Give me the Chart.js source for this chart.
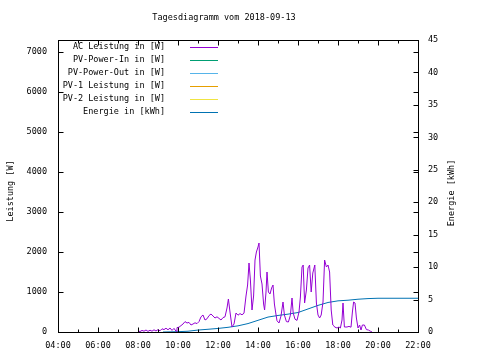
<!DOCTYPE html>
<html>
<head>
<meta charset="utf-8">
<script src="https://cdn.jsdelivr.net/npm/chart.js@4/dist/chart.umd.min.js"></script>
<style>
  html, body { margin: 0; padding: 0; background: #fff; }
  #wrap { width: 480px; height: 360px; }
</style>
</head>
<body>
<div id="wrap"><canvas id="c" width="480" height="360"></canvas></div>
<script>
// ---- data (hours of day, values) ----
const titleText = 'Tagesdiagramm vom 2018-09-13';
const seriesLabels = ['AC Leistung in [W]', 'PV-Power-In in [W]', 'PV-Power-Out in [W]', 'PV-1 Leistung in [W]', 'PV-2 Leistung in [W]', 'Energie in [kWh]'];
const seriesColors = ['#9400d3', '#009e73', '#56b4e9', '#e69f00', '#f0e442', '#0072b2'];

const acTimes = [8.00,8.10,8.20,8.30,8.40,8.50,8.60,8.70,8.80,8.90,9.00,9.10,9.20,9.30,9.40,9.50,9.60,9.70,9.80,9.90,9.95,
  10.05,10.15,10.25,10.35,10.45,10.55,10.65,10.75,10.85,10.95,11.05,11.15,11.25,11.35,11.45,11.55,11.65,11.75,11.85,11.95,
  12.05,12.15,12.25,12.35,12.45,12.52,12.60,12.70,12.80,12.90,13.00,13.10,13.20,13.30,13.40,13.48,13.55,13.62,13.70,13.78,
  13.85,13.92,14.00,14.05,14.12,14.20,14.28,14.33,14.40,14.45,14.52,14.60,14.68,14.75,14.82,14.88,14.95,15.05,15.15,15.25,
  15.32,15.42,15.52,15.62,15.70,15.76,15.85,15.95,16.05,16.12,16.20,16.26,16.33,16.42,16.50,16.58,16.66,16.74,16.84,16.92,
  17.00,17.08,17.16,17.25,17.33,17.42,17.50,17.58,17.66,17.74,17.85,17.95,18.05,18.12,18.20,18.25,18.32,18.45,18.55,18.65,
  18.72,18.78,18.85,18.92,19.00,19.08,19.15,19.22,19.32,19.42,19.52,19.62,19.70];
const acValues = [30,10,40,20,50,15,45,20,55,25,60,30,80,60,95,55,100,40,90,20,110,
  120,160,200,260,225,240,175,200,230,210,260,380,425,300,330,410,450,400,350,380,
  340,300,360,380,600,825,500,125,200,475,420,460,430,470,900,1175,1725,1300,550,900,
  1800,2000,2125,2225,1400,1200,700,550,1000,1500,1000,950,1100,1175,700,500,280,225,400,750,
  425,260,250,420,850,475,320,290,500,875,1625,1675,725,1050,1600,1675,1000,1475,1675,725,
  425,350,425,750,1800,1625,1675,1500,550,175,120,100,125,100,300,725,125,125,140,120,
  500,750,725,350,100,175,50,175,175,60,50,20,0];

const energyTimes = [9.25,10.0,10.5,11.0,11.5,12.0,12.5,13.0,13.5,14.0,14.5,15.0,15.5,16.0,16.5,17.0,17.5,18.0,18.5,19.0,19.5,20.0,22.0];
const energyValues = [0,0.05,0.12,0.3,0.42,0.55,0.72,0.95,1.3,1.8,2.3,2.55,2.75,3.0,3.55,4.1,4.55,4.8,4.9,5.05,5.15,5.2,5.2];

const xRange = [4, 22];
const yRange = [0, 7300];
const y2Range = [0, 45];
const xTicks = [4, 6, 8, 10, 12, 14, 16, 18, 20, 22];
const yTicks = [0, 1000, 2000, 3000, 4000, 5000, 6000, 7000];
const y2Ticks = [0, 5, 10, 15, 20, 25, 30, 35, 40, 45];

const FONT = "'DejaVu Sans Mono', monospace";
const FS = 8.5;

function pts(t, v) { return t.map((x, i) => ({ x: x, y: v[i] })); }

const datasets = [
  { label: seriesLabels[0], data: pts(acTimes, acValues), borderColor: seriesColors[0], yAxisID: 'y' },
  { label: seriesLabels[1], data: [], borderColor: seriesColors[1], yAxisID: 'y' },
  { label: seriesLabels[2], data: [], borderColor: seriesColors[2], yAxisID: 'y' },
  { label: seriesLabels[3], data: [], borderColor: seriesColors[3], yAxisID: 'y' },
  { label: seriesLabels[4], data: [], borderColor: seriesColors[4], yAxisID: 'y' },
  { label: seriesLabels[5], data: pts(energyTimes, energyValues), borderColor: seriesColors[5], yAxisID: 'y2' }
].map(d => Object.assign(d, { borderWidth: 1, pointRadius: 0, tension: 0, fill: false }));

function line(ctx, x1, y1, x2, y2) { ctx.beginPath(); ctx.moveTo(x1, y1); ctx.lineTo(x2, y2); ctx.stroke(); }

const gnuplotFrame = {
  id: 'gnuplotFrame',
  afterDatasetsDraw(chart) {
    const { ctx, chartArea: a, scales } = chart;
    ctx.save();
    ctx.strokeStyle = '#000';
    ctx.lineWidth = 1;
    const L = Math.round(a.left) + 0.5, R = Math.round(a.right) + 0.5;
    const T = Math.round(a.top) + 0.5, B = Math.round(a.bottom) + 0.5;
    ctx.strokeRect(L, T, R - L, B - T);
    // x ticks, hourly, mirrored on top
    for (let h = xRange[0]; h <= xRange[1]; h++) {
      const x = Math.round(scales.x.getPixelForValue(h)) + 0.5;
      const len = h % 2 === 0 ? 5 : 3;
      line(ctx, x, B, x, B - len);
      line(ctx, x, T, x, T + len);
    }
    // left y ticks, mirrored on right
    yTicks.forEach(v => {
      const y = Math.round(scales.y.getPixelForValue(v)) + 0.5;
      line(ctx, L, y, L + 5, y);
      line(ctx, R, y, R - 5, y);
    });
    // right y2 ticks
    y2Ticks.forEach(v => {
      const y = Math.round(scales.y2.getPixelForValue(v)) + 0.5;
      line(ctx, R, y, R - 5, y);
    });
    ctx.font = FS + 'px ' + FONT;
    ctx.fillStyle = '#000';
    ctx.textBaseline = 'middle';
    // title
    ctx.textAlign = 'center';
    ctx.fillText(titleText, 224, 18);
    // legend
    ctx.textAlign = 'right';
    chart.data.datasets.forEach((d, i) => {
      const y = 47 + i * 13;
      ctx.fillText(d.label, 165, y);
      ctx.strokeStyle = d.borderColor;
      line(ctx, 190, Math.round(y) + 0.5, 218, Math.round(y) + 0.5);
    });
    // axis titles, reading upward
    [['Leistung [W]', 11, 191], ['Energie [kWh]', 452, 193]].forEach(([t, x, y]) => {
      ctx.save();
      ctx.translate(x, y);
      ctx.rotate(-Math.PI / 2);
      ctx.textAlign = 'center';
      ctx.fillText(t, 0, 0);
      ctx.restore();
    });
    ctx.restore();
  }
};

const tickFont = { family: FONT, size: FS };
function setTicks(list) { return s => { s.ticks = list.map(v => ({ value: v })); }; }

new Chart(document.getElementById('c'), {
  type: 'line',
  data: { datasets: datasets },
  plugins: [gnuplotFrame],
  options: {
    responsive: false,
    animation: false,
    layout: { padding: { top: 40, left: 0, right: 0, bottom: 0 } },
    plugins: {
      legend: { display: false },
      tooltip: { enabled: false },
      title: { display: false }
    },
    scales: {
      x: {
        type: 'linear', min: xRange[0], max: xRange[1],
        grid: { display: false, drawTicks: false },
        border: { display: false },
        afterBuildTicks: setTicks(xTicks),
        afterFit(s) { s.height = 28; },
        ticks: {
          maxRotation: 0, autoSkip: false, color: '#000', padding: 9, font: tickFont,
          callback: v => String(v).padStart(2, '0') + ':00'
        }
      },
      y: {
        position: 'left', min: yRange[0], max: yRange[1],
        grid: { display: false, drawTicks: false },
        border: { display: false },
        afterBuildTicks: setTicks(yTicks),
        afterFit(s) { s.width = 58; },
        ticks: { color: '#000', padding: 11, font: tickFont, callback: v => String(v) }
      },
      y2: {
        position: 'right', min: y2Range[0], max: y2Range[1],
        grid: { display: false, drawTicks: false },
        border: { display: false },
        afterBuildTicks: setTicks(y2Ticks),
        afterFit(s) { s.width = 62; },
        ticks: { color: '#000', padding: 10, font: tickFont, callback: v => String(v) }
      }
    }
  }
});
</script>
</body>
</html>
